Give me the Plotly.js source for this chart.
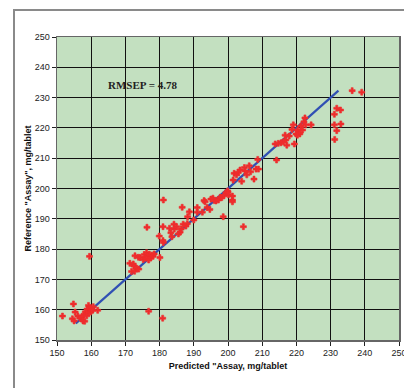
<!DOCTYPE html>
<html>
<head>
<meta charset="utf-8">
<script src="https://cdn.plot.ly/plotly-3.0.1.min.js"></script>
<style>
  html, body { margin: 0; padding: 0; background: #ffffff; }
  #wrap { position: relative; width: 404px; height: 388px; overflow: hidden; }
  #frame { position: absolute; left: 13px; top: 9px; width: 420px; height: 420px;
           border: 2px solid #8a8a8a; box-sizing: border-box; pointer-events: none; }
  #chart { position: absolute; left: 0; top: 0; width: 404px; height: 388px; }
</style>
</head>
<body>
<div id="wrap">
  <div id="chart"></div>
  <div id="frame"></div>
</div>
<script>
// Predicted vs. reference assay values, mg/tablet
const predicted = [
  151.6, 154.8, 154.5, 155.0, 155.3, 156.1, 156.7, 157.3, 157.6, 157.9,
  158.3, 158.1, 158.7, 158.8, 159.2, 159.3, 159.6, 159.9, 160.2, 160.6,
  160.4, 161.9, 159.5, 176.8, 180.9,
  171.3, 171.8, 172.3, 172.5, 172.8, 172.7, 173.3, 173.9, 173.8, 174.3,
  175.2, 175.5, 175.9, 176.2, 176.5, 176.8, 177.0, 177.4, 177.7, 178.1,
  178.4, 176.3, 180.1, 181.1, 181.0,
  179.9, 181.0, 181.1, 182.9, 183.3, 183.6, 184.2, 184.3, 185.0, 185.5,
  186.0, 186.3, 186.6, 186.9, 187.7, 188.2, 188.1, 188.7, 190.0, 191.0,
  191.0, 192.5, 193.0, 193.3, 193.9, 194.7, 195.0, 195.6, 196.0, 196.5,
  197.2, 197.7, 198.2, 198.6, 198.8, 199.4, 199.9, 200.1, 200.0, 201.3,
  201.3, 201.3,
  201.5, 201.8, 202.5, 203.0, 203.5, 204.0, 204.5, 204.8, 205.5, 205.0,
  206.2, 206.6, 207.6, 208.2, 208.9, 208.7,
  214.2, 213.8, 214.7, 215.5, 216.2, 216.7, 217.2, 216.9, 217.9, 218.7,
  219.1, 219.4, 219.9, 220.4, 220.8, 221.3, 221.8, 222.2, 222.7, 222.5,
  221.0, 220.3, 224.3,
  231.1, 231.2, 231.8, 233.0, 231.1, 231.8, 232.9, 236.3, 239.1
];
const reference = [
  157.9, 161.9, 157.0, 156.3, 159.2, 157.9, 157.3, 157.6, 156.3, 158.5,
  159.3, 156.2, 158.0, 160.2, 161.4, 159.0, 160.6, 159.3, 160.2, 161.0,
  159.8, 159.8, 177.6, 159.5, 157.2,
  175.3, 172.6, 175.1, 174.4, 177.8, 172.7, 173.7, 173.4, 177.3, 177.2,
  176.6, 178.2, 177.0, 178.8, 177.6, 176.4, 178.3, 177.1, 178.0, 177.6,
  178.4, 187.2, 177.2, 182.2, 182.8,
  184.3, 187.4, 196.2, 186.9, 185.4, 184.1, 188.2, 186.6, 187.4, 185.0,
  185.6, 186.6, 193.8, 188.2, 187.6, 190.7, 188.4, 192.3, 189.6, 193.7,
  192.2, 192.2, 196.0, 195.6, 193.7, 193.1, 196.5, 196.8, 196.0, 195.9,
  196.2, 197.1, 197.0, 190.7, 197.6, 198.6, 199.2, 197.9, 198.8, 196.2,
  195.6, 197.5,
  202.8, 205.0, 204.5, 205.3, 206.1, 202.4, 187.4, 206.9, 204.5, 205.8,
  207.5, 205.5, 203.1, 206.4, 206.4, 209.6,
  209.4, 214.7, 214.9, 215.1, 215.4, 217.6, 214.3, 216.0, 217.3, 219.5,
  221.0, 214.7, 218.0, 219.3, 218.4, 220.6, 219.3, 222.0, 221.0, 223.3,
  218.0, 217.6, 221.0,
  221.0, 216.2, 219.1, 221.3, 224.5, 226.5, 225.9, 232.3, 231.8
];
// Ideal-agreement line end points
const idealLine = [155.5, 232.3];
const axisTicks = [150, 160, 170, 180, 190, 200, 210, 220, 230, 240, 250];
const rmsep = 4.78;

const tickFont = { family: 'Liberation Sans, Arial, sans-serif', size: 9, color: '#222' };
const titleFont = { family: 'Liberation Sans, Arial, sans-serif', size: 9, color: '#111', weight: 'bold' };

const axisCommon = {
  range: [150, 250], autorange: false,
  tickvals: axisTicks, ticktext: axisTicks.map(String),
  showgrid: true, gridcolor: '#111', gridwidth: 1,
  zeroline: false,
  showline: true, linecolor: '#666', linewidth: 1.5, mirror: true,
  ticks: 'outside', ticklen: 4, tickcolor: '#222', tickwidth: 1,
  tickfont: tickFont, ticklabeloverflow: 'allow'
};

const traces = [
  {
    x: idealLine, y: idealLine, mode: 'lines', type: 'scatter',
    line: { color: '#3050b4', width: 2.2 }, hoverinfo: 'skip'
  },
  {
    x: predicted, y: reference, mode: 'markers', type: 'scatter',
    marker: { symbol: 'cross', size: 5, color: '#ee2d2d', line: { width: 0.6, color: '#ee2d2d' } }
  }
];

const layout = {
  width: 404, height: 388,
  margin: { l: 57, r: 5, t: 37, b: 48 },
  paper_bgcolor: 'rgba(0,0,0,0)',
  plot_bgcolor: '#c3e0c0',
  showlegend: false,
  xaxis: Object.assign({}, axisCommon, {
    title: { text: 'Predicted "Assay, mg/tablet', font: titleFont, standoff: 5 }
  }),
  yaxis: Object.assign({}, axisCommon, {
    title: { text: 'Reference "Assay", mg/tablet', font: titleFont, standoff: 1 }
  }),
  annotations: [{
    x: 175, y: 234.2, xref: 'x', yref: 'y', showarrow: false,
    text: 'RMSEP = ' + rmsep.toFixed(2),
    font: { family: 'Liberation Serif, Times New Roman, serif', size: 11, color: '#222', weight: 'bold' }
  }]
};

Plotly.newPlot('chart', traces, layout, { staticPlot: true, displayModeBar: false });
</script>
</body>
</html>
